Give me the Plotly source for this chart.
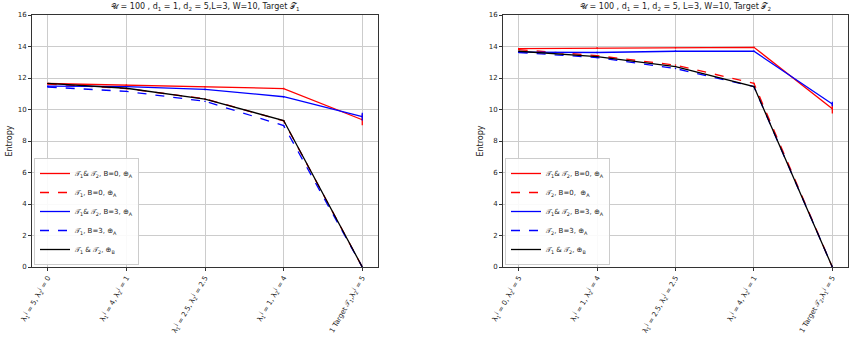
import plotly.graph_objects as go

# ---------------- data ----------------
ticks_left = [
    "λ<sub>1</sub><sup>j</sup> = 5, λ<sub>2</sub><sup>j</sup> = 0",
    "λ<sub>1</sub><sup>j</sup> = 4, λ<sub>2</sub><sup>j</sup> = 1",
    "λ<sub>1</sub><sup>j</sup> = 2.5, λ<sub>2</sub><sup>j</sup> = 2.5",
    "λ<sub>1</sub><sup>j</sup> = 1, λ<sub>2</sub><sup>j</sup> = 4",
    "1 Target 𝒯<sub>1</sub>,λ<sub>2</sub><sup>j</sup> = 5",
]
ticks_right = [
    "λ<sub>1</sub><sup>j</sup> = 0, λ<sub>2</sub><sup>j</sup> = 5",
    "λ<sub>1</sub><sup>j</sup> = 1, λ<sub>2</sub><sup>j</sup> = 4",
    "λ<sub>1</sub><sup>j</sup> = 2.5, λ<sub>2</sub><sup>j</sup> = 2.5",
    "λ<sub>1</sub><sup>j</sup> = 4, λ<sub>2</sub><sup>j</sup> = 1",
    "1 Target 𝒯<sub>2</sub>,λ<sub>1</sub><sup>j</sup> = 5",
]

# Target T1 (left)
l_red_solid = [11.65, 11.55, 11.45, 11.33, 9.35]
l_red_solid_err = [0.05, 0.05, 0.05, 0.05, 0.35]
l_red_dash = [11.62, 11.33, 10.68, 9.28, 0.0]
l_red_dash_err = [0.04, 0.04, 0.04, 0.04, 0.0]
l_blue_solid = [11.48, 11.45, 11.28, 10.81, 9.55]
l_blue_solid_err = [0.05, 0.05, 0.05, 0.05, 0.25]
l_blue_dash = [11.43, 11.15, 10.52, 8.98, 0.0]
l_blue_dash_err = [0.04, 0.04, 0.04, 0.04, 0.0]
l_black = [11.66, 11.35, 10.66, 9.3, 0.0]
l_black_err = [0.03, 0.03, 0.03, 0.03, 0.0]

# Target T2 (right)
r_red_solid = [13.86, 13.9, 13.93, 13.95, 10.05]
r_red_solid_err = [0.05, 0.05, 0.05, 0.05, 0.3]
r_red_dash = [13.8, 13.42, 12.82, 11.66, 0.0]
r_red_dash_err = [0.04, 0.04, 0.04, 0.04, 0.0]
r_blue_solid = [13.64, 13.62, 13.7, 13.7, 10.35]
r_blue_solid_err = [0.05, 0.05, 0.05, 0.05, 0.15]
r_blue_dash = [13.62, 13.3, 12.6, 11.45, 0.0]
r_blue_dash_err = [0.04, 0.04, 0.04, 0.04, 0.0]
r_black = [13.7, 13.36, 12.72, 11.46, 0.0]
r_black_err = [0.03, 0.03, 0.03, 0.03, 0.0]

names_left = [
    "𝒯<sub>1</sub>& 𝒯<sub>2</sub>, B=0, ⊕<sub>A</sub>",
    "𝒯<sub>1</sub>, B=0, ⊕<sub>A</sub>",
    "𝒯<sub>1</sub>& 𝒯<sub>2</sub>, B=3, ⊕<sub>A</sub>",
    "𝒯<sub>1</sub>, B=3, ⊕<sub>A</sub>",
    "𝒯<sub>1</sub> & 𝒯<sub>2</sub>, ⊕<sub>B</sub>",
]
names_right = [
    "𝒯<sub>1</sub>& 𝒯<sub>2</sub>, B=0, ⊕<sub>A</sub>",
    "𝒯<sub>2</sub>, B=0,  ⊕<sub>A</sub>",
    "𝒯<sub>1</sub>& 𝒯<sub>2</sub>, B=3, ⊕<sub>A</sub>",
    "𝒯<sub>2</sub>, B=3, ⊕<sub>A</sub>",
    "𝒯<sub>1</sub> & 𝒯<sub>2</sub>, ⊕<sub>B</sub>",
]

title_left = "𝒰 = 100 , d<sub>1</sub> = 1, d<sub>2</sub> = 5,L=3, W=10, Target 𝒯<sub>1</sub>"
title_right = "𝒰 = 100 , d<sub>1</sub> = 1, d<sub>2</sub> = 5, L=3, W=10, Target 𝒯<sub>2</sub>"

styles = [("#ff0000", "solid"), ("#ff0000", "dash"), ("#0000ff", "solid"),
          ("#0000ff", "dash"), ("#000000", "solid")]

FONT = "DejaVu Sans, sans-serif"
fig = go.Figure()

left_series = [(l_red_solid, l_red_solid_err), (l_red_dash, l_red_dash_err),
               (l_blue_solid, l_blue_solid_err), (l_blue_dash, l_blue_dash_err),
               (l_black, l_black_err)]
right_series = [(r_red_solid, r_red_solid_err), (r_red_dash, r_red_dash_err),
                (r_blue_solid, r_blue_solid_err), (r_blue_dash, r_blue_dash_err),
                (r_black, r_black_err)]

xs = list(range(5))
for (vals, err), name, (col, dash) in zip(left_series, names_left, styles):
    fig.add_trace(go.Scatter(
        x=xs, y=vals, mode="lines", name=name, xaxis="x", yaxis="y",
        line=dict(color=col, dash=dash, width=1.3),
        error_y=dict(type="data", array=err, width=0, color=col, thickness=1.3),
        legend="legend"))
for (vals, err), name, (col, dash) in zip(right_series, names_right, styles):
    fig.add_trace(go.Scatter(
        x=xs, y=vals, mode="lines", name=name, xaxis="x2", yaxis="y2",
        line=dict(color=col, dash=dash, width=1.3),
        error_y=dict(type="data", array=err, width=0, color=col, thickness=1.3),
        legend="legend2"))

W, H = 854, 337
def fx(px): return px / W
def fy(py): return 1 - py / H

axis_common = dict(showgrid=True, gridcolor="#cccccc", gridwidth=1,
                   showline=True, linecolor="#333333", linewidth=1, mirror=True,
                   ticks="outside", ticklen=3, tickcolor="#333333", automargin=False,
                   tickfont=dict(size=7, family=FONT, color="#222222"), zeroline=False)

fig.update_layout(
    width=W, height=H,
    margin=dict(l=0, r=0, t=0, b=0),
    paper_bgcolor="white", plot_bgcolor="white",
    font=dict(family=FONT, size=7, color="#222222"),
    xaxis=dict(domain=[fx(32), fx(378)], range=[-0.2, 4.2], tickmode="array",
               tickvals=xs, ticktext=ticks_left, tickangle=-60, anchor="y", **axis_common),
    yaxis=dict(domain=[fy(267), fy(15)], range=[0, 16], dtick=2, anchor="x",
               title=dict(text="Entropy", font=dict(size=8, family=FONT), standoff=3),
               **axis_common),
    xaxis2=dict(domain=[fx(503), fx(848)], range=[-0.2, 4.2], tickmode="array",
                tickvals=xs, ticktext=ticks_right, tickangle=-60, anchor="y2", **axis_common),
    yaxis2=dict(domain=[fy(267), fy(15)], range=[0, 16], dtick=2, anchor="x2",
                title=dict(text="Entropy", font=dict(size=8, family=FONT), standoff=3),
                **axis_common),
    legend=dict(x=fx(34), y=fy(267) + 2 / H, xanchor="left", yanchor="bottom",
                bgcolor="rgba(255,255,255,0.9)", bordercolor="#cccccc", borderwidth=1,
                font=dict(size=7, family=FONT), tracegroupgap=0, itemwidth=30),
    legend2=dict(x=fx(505), y=fy(267) + 2 / H, xanchor="left", yanchor="bottom",
                 bgcolor="rgba(255,255,255,0.9)", bordercolor="#cccccc", borderwidth=1,
                 font=dict(size=7, family=FONT), tracegroupgap=0, itemwidth=30),
    annotations=[
        dict(text=title_left, x=(fx(32) + fx(378)) / 2, y=fy(14), xref="paper", yref="paper",
             xanchor="center", yanchor="bottom", showarrow=False,
             font=dict(size=8, family=FONT, color="#222222")),
        dict(text=title_right, x=(fx(503) + fx(848)) / 2, y=fy(14), xref="paper", yref="paper",
             xanchor="center", yanchor="bottom", showarrow=False,
             font=dict(size=8, family=FONT, color="#222222")),
    ],
)

fig.write_html("out.html", config={"displayModeBar": False},
               post_script="document.body.style.margin='0px';document.body.style.padding='0px';")
